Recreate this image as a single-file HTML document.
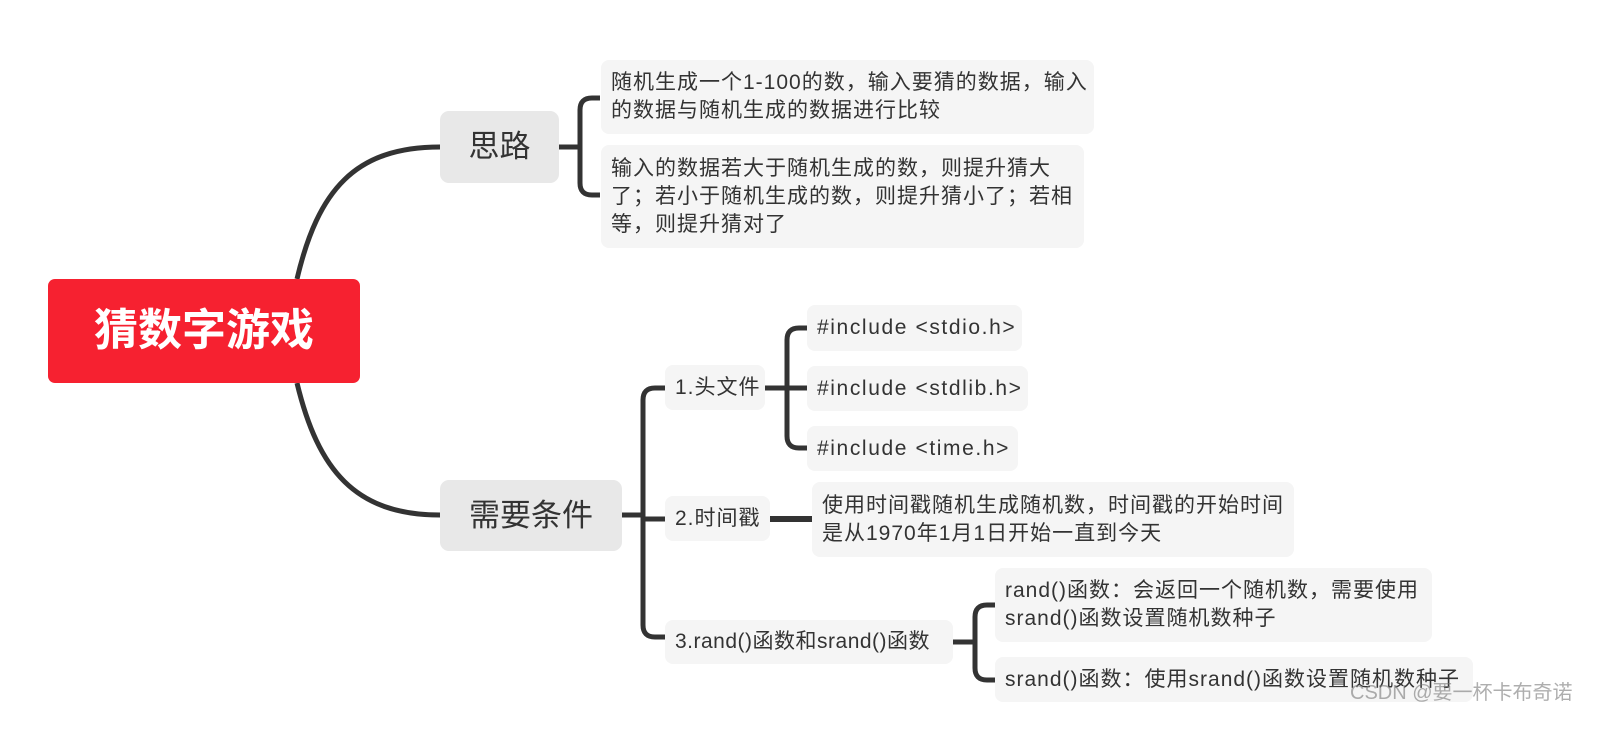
<!DOCTYPE html>
<html><head><meta charset="utf-8"><style>
body{margin:0;width:1624px;height:731px;background:#fff;position:relative;overflow:hidden;font-family:"Liberation Sans","Noto Sans CJK SC",sans-serif;color:#333}
.b{position:absolute;border-radius:8px;background:#f5f5f5;box-sizing:border-box;font-size:21px;letter-spacing:1px;line-height:28px;padding:0 10px;display:flex;align-items:center;white-space:nowrap}
.i{font-size:21px;letter-spacing:1.6px}
.m{background:#e8e8e8;font-size:31px;letter-spacing:0;justify-content:center;border-radius:9px}
</style></head><body>
<svg width="1624" height="731" style="position:absolute;left:0;top:0" fill="none" stroke="#333" stroke-width="5">
<path d="M297 279 C318 190 355 147 440 147"/>
<path d="M297 383 C318 470 355 515 440 515"/>
<path d="M559 147 H580 M600 98 H592 Q580 98 580 110 V183 Q580 195 592 195 H600"/>
<path d="M622 515 H643 M665 388 H655 Q643 388 643 400 V625 Q643 637 655 637 H665 M643 519 H665"/>
<path d="M765 388 H787 M807 328 H799 Q787 328 787 340 V436 Q787 448 799 448 H807 M787 388 H807"/>
<path d="M770 519 H812" stroke-width="6"/>
<path d="M953 642 H975 M995 605 H987 Q975 605 975 617 V668 Q975 680 987 680 H995"/>
</svg>
<div class="b" style="left:48px;top:279px;width:312px;height:104px;background:#f62130;color:#fff;font-size:44px;letter-spacing:0;font-weight:bold;justify-content:center;border-radius:7px">猜数字游戏</div>
<div class="b m" style="left:440px;top:111px;width:119px;height:72px">思路</div>
<div class="b m" style="left:440px;top:480px;width:182px;height:71px">需要条件</div>
<div class="b" style="left:601px;top:60px;width:493px;height:74px">随机生成一个1-100的数，输入要猜的数据，输入<br>的数据与随机生成的数据进行比较</div>
<div class="b" style="left:601px;top:145px;width:483px;height:103px">输入的数据若大于随机生成的数，则提升猜大<br>了；若小于随机生成的数，则提升猜小了；若相<br>等，则提升猜对了</div>
<div class="b" style="left:665px;top:365px;width:100px;height:45px">1.头文件</div>
<div class="b" style="left:665px;top:496px;width:105px;height:45px">2.时间戳</div>
<div class="b" style="left:665px;top:620px;width:288px;height:44px;letter-spacing:0.5px">3.rand()函数和srand()函数</div>
<div class="b i" style="left:807px;top:305px;width:215px;height:46px">#include &lt;stdio.h&gt;</div>
<div class="b i" style="left:807px;top:366px;width:221px;height:45px">#include &lt;stdlib.h&gt;</div>
<div class="b i" style="left:807px;top:426px;width:211px;height:45px">#include &lt;time.h&gt;</div>
<div class="b" style="left:812px;top:482px;width:482px;height:75px">使用时间戳随机生成随机数，时间戳的开始时间<br>是从1970年1月1日开始一直到今天</div>
<div class="b" style="left:995px;top:568px;width:437px;height:74px">rand()函数：会返回一个随机数，需要使用<br>srand()函数设置随机数种子</div>
<div class="b" style="left:995px;top:657px;width:478px;height:45px">srand()函数：使用srand()函数设置随机数种子</div>
<div style="position:absolute;left:1350px;top:676px;font-size:20px;color:rgba(120,120,120,.6)">CSDN @要一杯卡布奇诺</div>
</body></html>
